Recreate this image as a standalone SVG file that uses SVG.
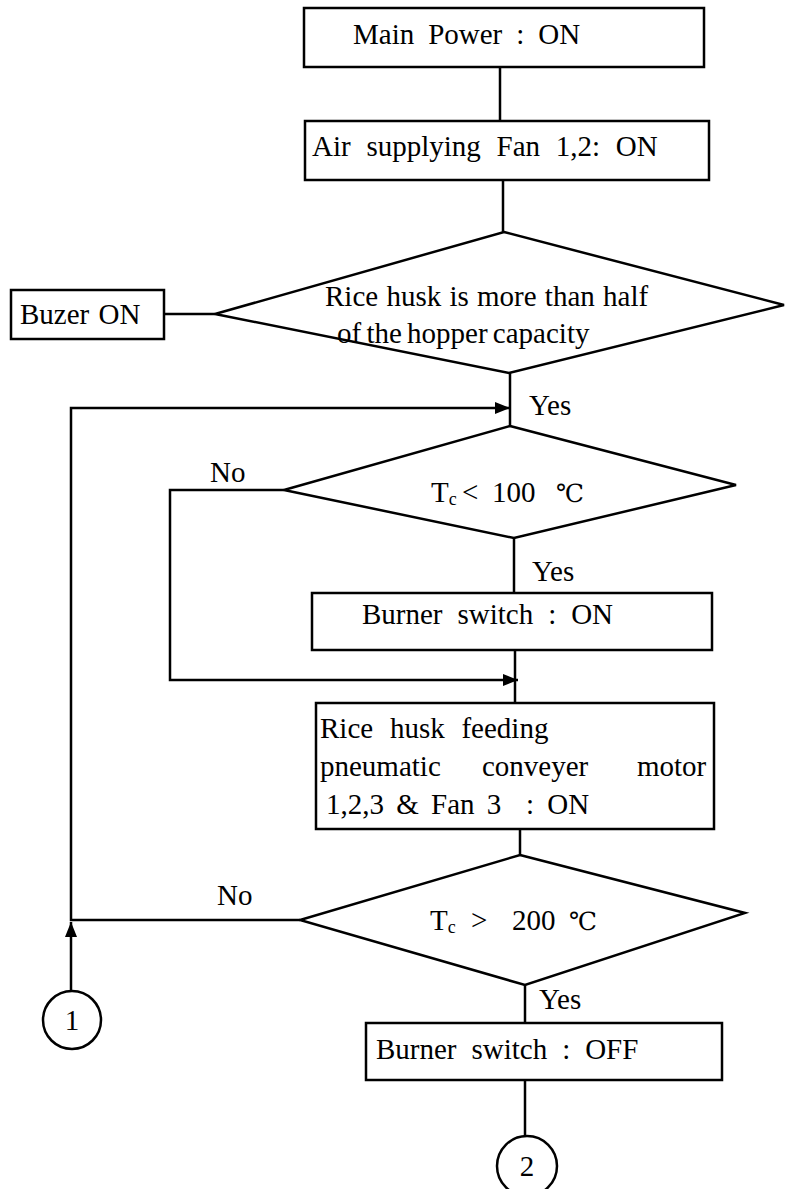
<svg xmlns="http://www.w3.org/2000/svg" width="785" height="1189" viewBox="0 0 785 1189">
<style>
.box{fill:#fff;stroke:#000;stroke-width:2.5}
.ln{fill:none;stroke:#000;stroke-width:2.5}
.t{font-family:"Liberation Serif","DejaVu Serif",serif;font-size:29px;fill:#000}
.sub{font-size:18px}
.deg{font-size:25px}
</style>
<defs>
<marker id="arr" markerUnits="userSpaceOnUse" markerWidth="18" markerHeight="14" refX="15" refY="6" orient="auto">
<path d="M0,0 L15,6 L0,12 z" fill="#000"/>
</marker>
</defs>
<rect width="785" height="1189" fill="#fff"/>
<g id="connectors">
<path class="ln" d="M500,67 V121"/>
<path class="ln" d="M503,180 V232"/>
<path class="ln" d="M164,314 H215"/>
<path class="ln" d="M510,373 V426"/>
<path class="ln" d="M300,920 H71 V408 H510" marker-end="url(#arr)"/>
<path class="ln" d="M71,991 V922" marker-end="url(#arr)"/>
<path class="ln" d="M284,490 H170 V680 H518" marker-end="url(#arr)"/>
<path class="ln" d="M514,538 V593"/>
<path class="ln" d="M515,650 V703"/>
<path class="ln" d="M520,829 V855"/>
<path class="ln" d="M525,985 V1023"/>
<path class="ln" d="M525,1080 V1136"/>
<text class="t" x="529" y="415">Yes</text>
<text class="t" x="210" y="482">No</text>
<text class="t" x="532" y="581">Yes</text>
<text class="t" x="217" y="905">No</text>
<text class="t" x="539" y="1009">Yes</text>
</g>
<g id="n-main-power">
<rect class="box" x="304" y="8" width="400" height="59"/>
<text class="t" x="353" y="44" word-spacing="6.7">Main Power : ON</text>
</g>
<g id="n-air-fan">
<rect class="box" x="305" y="121" width="404" height="59"/>
<text class="t" x="312" y="156" word-spacing="8.5">Air supplying Fan 1,2: ON</text>
</g>
<g id="n-hopper">
<polygon class="box" points="504,232 784,305 509,373 215,314"/>
<text class="t" x="325" y="306" word-spacing="1">Rice husk is more than half</text>
<text class="t" x="337" y="343" word-spacing="-2">of the hopper capacity</text>
</g>
<g id="n-buzer">
<rect class="box" x="11" y="290" width="153" height="49"/>
<text class="t" x="20" y="324" word-spacing="2">Buzer ON</text>
</g>
<g id="n-tc100">
<polygon class="box" points="510,426 736,485 514,538 284,490"/>
<text class="t" x="431" y="502">T<tspan class="sub" dy="3">c</tspan></text>
<text class="t" x="462" y="502">&lt;</text>
<text class="t" x="492" y="502">100</text>
<text class="t deg" x="556" y="502">℃</text>
</g>
<g id="n-burner-on">
<rect class="box" x="312" y="593" width="400" height="57"/>
<text class="t" x="362" y="624" word-spacing="7.7">Burner switch : ON</text>
</g>
<g id="n-feeding">
<rect class="box" x="316" y="703" width="398" height="126"/>
<text class="t" x="320" y="738" word-spacing="9.5">Rice husk feeding</text>
<text class="t" x="320" y="776">pneumatic</text>
<text class="t" x="482" y="776">conveyer</text>
<text class="t" x="637" y="776">motor</text>
<text class="t" x="326" y="814" word-spacing="5">1,2,3 &amp; Fan 3</text>
<text class="t" x="526" y="814" word-spacing="6">: ON</text>
</g>
<g id="n-tc200">
<polygon class="box" points="520,855 745,913 525,985 300,920"/>
<text class="t" x="430" y="930">T<tspan class="sub" dy="3">c</tspan></text>
<text class="t" x="471" y="930">&gt;</text>
<text class="t" x="512" y="930">200</text>
<text class="t deg" x="569" y="930">℃</text>
</g>
<g id="n-burner-off">
<rect class="box" x="366" y="1023" width="356" height="57"/>
<text class="t" x="376" y="1059" word-spacing="7.7">Burner switch : OFF</text>
</g>
<g id="n-c1">
<circle class="box" cx="72" cy="1020" r="29"/>
<text class="t" x="72" y="1030" text-anchor="middle">1</text>
</g>
<g id="n-c2">
<circle class="box" cx="527" cy="1166" r="30"/>
<text class="t" x="527" y="1176" text-anchor="middle">2</text>
</g>
</svg>
